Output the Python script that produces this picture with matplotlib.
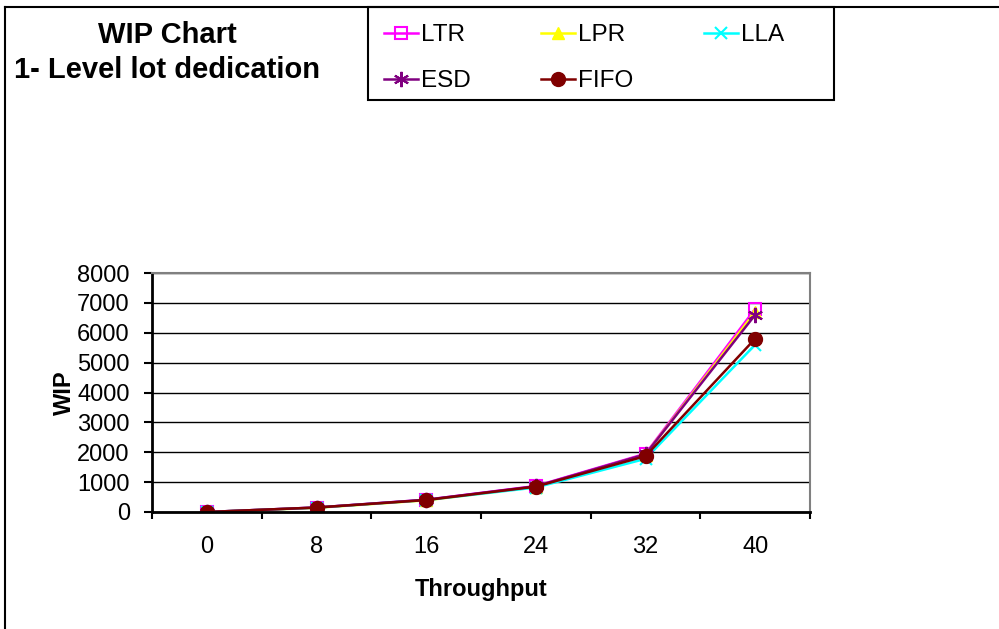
import numpy as np
import matplotlib
matplotlib.use("Agg")
import matplotlib.pyplot as plt
from matplotlib.lines import Line2D
from matplotlib.patches import Rectangle

plt.rcParams['font.family'] = ['Liberation Sans', 'DejaVu Sans']

throughput = ['0', '8', '16', '24', '32', '40']
wip_ltr = [0, 150, 410, 870, 1950, 6800]
wip_lpr = [0, 140, 390, 840, 1920, 6700]
wip_lla = [0, 145, 400, 820, 1780, 5600]
wip_esd = [0, 150, 410, 860, 1930, 6600]
wip_fifo = [0, 150, 400, 850, 1870, 5800]

W, H = 999, 629
fig = plt.figure(figsize=(W / 100, H / 100), dpi=100)

# plot area in pixel units
px0, px1, py0, py1 = 152, 810, 273, 512
ax = fig.add_axes([px0 / W, 1 - py1 / H, (px1 - px0) / W, (py1 - py0) / H])

x = np.arange(len(throughput))
lw = 1.8
l1, = ax.plot(x, wip_ltr, color='#FF00FF', lw=lw, marker='s', ms=8,
              mfc='none', mec='#FF00FF', mew=1.5, label='LTR')
l2, = ax.plot(x, wip_lpr, color='#FFFF00', lw=lw, marker='^', ms=9,
              mfc='#FFFF00', mec='#FFFF00', label='LPR')
l3, = ax.plot(x, wip_lla, color='#00FFFF', lw=lw, marker='x', ms=9,
              mew=1.5, mec='#00FFFF', label='LLA')
l4, = ax.plot(x, wip_esd, color='#800080', lw=lw, marker=(6, 2, 0), ms=11,
              mew=1.5, mec='#800080', label='ESD')
l5, = ax.plot(x, wip_fifo, color='#800000', lw=lw, marker='o', ms=10,
              mfc='#800000', mec='#800000', label='FIFO')

ax.set_xlim(-0.5, len(throughput) - 0.5)
ax.set_ylim(0, 8000)
ax.set_yticks(np.arange(0, 8001, 1000))
ax.yaxis.grid(True, color='black', lw=1)
ax.set_axisbelow(True)

# category axis: tick marks between categories, labels centred on them
ax.set_xticks(np.arange(-0.5, len(throughput)))
ax.set_xticklabels([])
ax.set_xticks(x, minor=True)
ax.set_xticklabels(throughput, minor=True)
ax.tick_params(axis='x', which='minor', length=0, pad=17.5, labelsize=17)
ax.tick_params(axis='x', which='major', direction='out', length=5, width=1.5)
ax.tick_params(axis='y', direction='out', length=6, width=1.5, labelsize=17, pad=10)

for s in ['top', 'right']:
    ax.spines[s].set_color('#808080')
    ax.spines[s].set_linewidth(1.5)
for s in ['left', 'bottom']:
    ax.spines[s].set_color('black')
    ax.spines[s].set_linewidth(2)

ax.set_xlabel('Throughput', fontsize=17, fontweight='bold', labelpad=14)
ax.set_ylabel('WIP', fontsize=17, fontweight='bold', labelpad=1)

# title
fig.text(167 / W, 1 - 21 / H, 'WIP Chart\n1- Level lot dedication',
         ha='center', va='top', fontsize=21, fontweight='bold',
         linespacing=1.3)

# legend box and entries (row-wise order)
fig.add_artist(Rectangle((368 / W, 1 - 100 / H), (834 - 368) / W, 93 / H,
                         transform=fig.transFigure, fill=False,
                         edgecolor='black', lw=1.5))
fig.legend([l1, l4, l2, l5, l3], ['LTR', 'ESD', 'LPR', 'FIFO', 'LLA'],
           ncol=3, loc='upper left',
           bbox_to_anchor=(384 / W, 1 - 24 / H),
           fontsize=17.5, frameon=False, handlelength=1.4,
           handletextpad=0.12, labelspacing=1.0, borderpad=0,
           borderaxespad=0, columnspacing=2.9)

# outer chart frame (left and top edges)
fig.add_artist(Line2D([5 / W, 5 / W], [0, 1 - 7 / H], color='black', lw=1.5,
                      transform=fig.transFigure))
fig.add_artist(Line2D([5 / W, 1], [1 - 7 / H, 1 - 7 / H], color='black', lw=1.5,
                      transform=fig.transFigure))

fig.savefig('out.png', dpi=100)
